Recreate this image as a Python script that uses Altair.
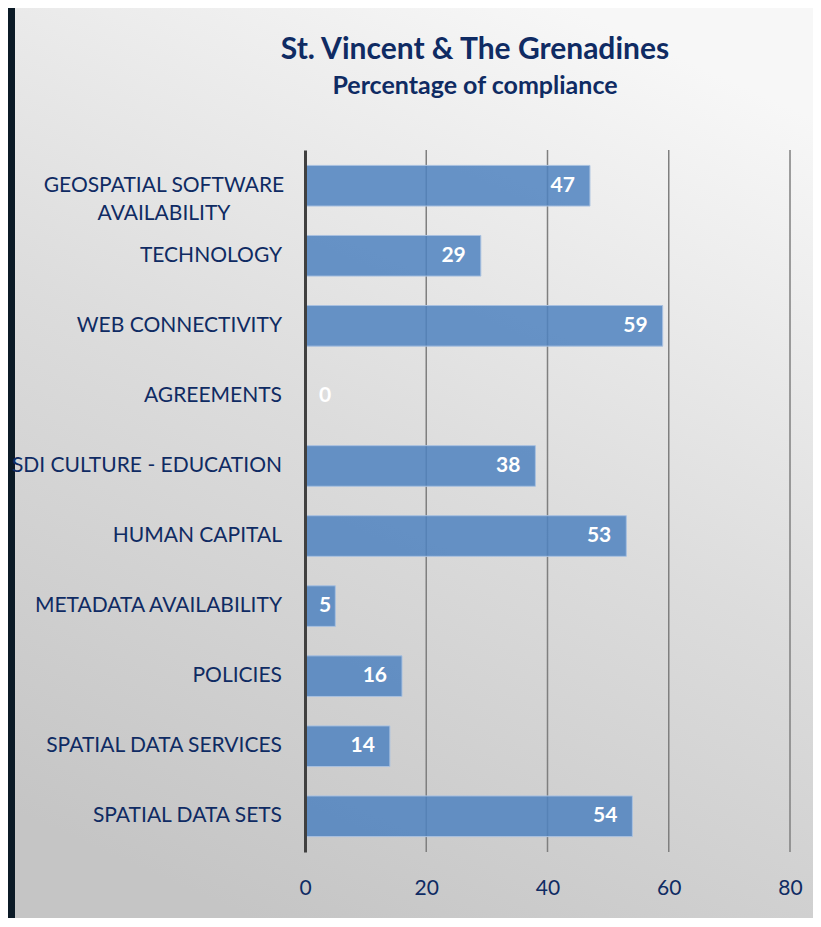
import altair as alt
import pandas as pd

categories = [
    "GEOSPATIAL SOFTWARE AVAILABILITY",
    "TECHNOLOGY",
    "WEB CONNECTIVITY",
    "AGREEMENTS",
    "SDI CULTURE - EDUCATION",
    "HUMAN CAPITAL",
    "METADATA AVAILABILITY",
    "POLICIES",
    "SPATIAL DATA SERVICES",
    "SPATIAL DATA SETS",
]
values = [47, 29, 59, 0, 38, 53, 5, 16, 14, 54]
x_ticks = [0, 20, 40, 60, 80]
title_text = "St. Vincent & The Grenadines"
subtitle_text = "Percentage of compliance"

df = pd.DataFrame({"cat": categories, "v": values})
grid_df = pd.DataFrame({"t": x_ticks[1:]})

PAD_L, PAD_T, W, H, PAD_R, PAD_B = 297, 142, 485, 702, 23, 66
FONT = "Lato"
NAVY = "#0f2b63"

one = pd.DataFrame({"a": [0]})
xscale = alt.Scale(domain=[0, 80], nice=False)
yscale = alt.Scale(paddingInner=0.42, paddingOuter=0.22)

bg = alt.Chart(one).mark_rect(
    fill=alt.Gradient(
        gradient="linear",
        x1=0.7, y1=0, x2=0.3, y2=1,
        stops=[alt.GradientStop(color="#f7f7f7", offset=0),
               alt.GradientStop(color="#dcdcdc", offset=0.5),
               alt.GradientStop(color="#c5c5c5", offset=1)],
    )
).encode(
    x=alt.value(-PAD_L), x2=alt.value(W + PAD_R),
    y=alt.value(-PAD_T), y2=alt.value(H + PAD_B),
)

border = alt.Chart(one).mark_rect(fill="#0b1a26").encode(
    x=alt.value(-PAD_L), x2=alt.value(-PAD_L + 7),
    y=alt.value(-PAD_T), y2=alt.value(H + PAD_B),
)

title = alt.Chart(one).mark_text(
    font=FONT, fontSize=30, fontWeight="bold", color=NAVY,
    align="center", baseline="middle", text=title_text
).encode(x=alt.value(170), y=alt.value(-100))

subtitle = alt.Chart(one).mark_text(
    font=FONT, fontSize=25, fontWeight="bold", color=NAVY,
    align="center", baseline="middle", text=subtitle_text
).encode(x=alt.value(170), y=alt.value(-64))

grid = alt.Chart(grid_df).mark_rule(color="#7f7f7f", strokeWidth=1.5).encode(
    x=alt.X("t:Q", scale=xscale), y=alt.value(0), y2=alt.value(H)
)

bars = alt.Chart(df).mark_bar(
    fill="#4f82c0", fillOpacity=0.85, stroke="#a9c1e0", strokeWidth=1
).encode(
    x=alt.X("v:Q", scale=xscale,
            axis=alt.Axis(title=None, values=x_ticks, labelFont=FONT,
                          labelFontSize=21, labelColor=NAVY, labelPadding=25,
                          labelFlush=False,
                          ticks=False, domain=False, grid=False, zindex=1)),
    y=alt.Y("cat:N", sort=categories, scale=yscale,
            axis=alt.Axis(title=None, labels=False, zindex=1,
                          ticks=False, domain=True, domainColor="#404040",
                          domainWidth=3, grid=False)),
)

labels = alt.Chart(df).transform_calculate(
    lx="max(datum.v, 6.8)"
).mark_text(
    align="right", baseline="middle", dx=-15, font=FONT, fontSize=21,
    fontWeight="bold", color="white"
).encode(
    x=alt.X("lx:Q", scale=xscale),
    y=alt.Y("cat:N", sort=categories, scale=yscale),
    text=alt.Text("v:Q"),
)

ylabels = alt.Chart(df).transform_filter(
    alt.datum.cat != categories[0]
).mark_text(
    align="right", baseline="middle", font=FONT, fontSize=21, color=NAVY
).encode(
    x=alt.value(-23),
    y=alt.Y("cat:N", sort=categories, scale=yscale),
    text="cat:N",
)

ylabel_wrapped = alt.Chart(df).transform_filter(
    alt.datum.cat == categories[0]
).transform_calculate(
    lab="replace(datum.cat, 'SOFTWARE ', 'SOFTWARE|')"
).mark_text(
    align="center", baseline="middle", font=FONT, fontSize=21, color=NAVY,
    lineBreak="|", lineHeight=28
).encode(
    x=alt.value(-141),
    y=alt.Y("cat:N", sort=categories, scale=yscale),
    text="lab:N",
)

chart = alt.layer(bg, border, title, subtitle, grid, bars, labels,
                  ylabels, ylabel_wrapped).properties(
    width=W, height=H,
    padding={"left": PAD_L, "top": PAD_T, "right": PAD_R, "bottom": PAD_B},
    autosize=alt.AutoSizeParams(type="none"),
).configure_view(stroke=None).configure(background="white")

chart.save("out.html", embed_options={"renderer": "svg", "actions": False})
